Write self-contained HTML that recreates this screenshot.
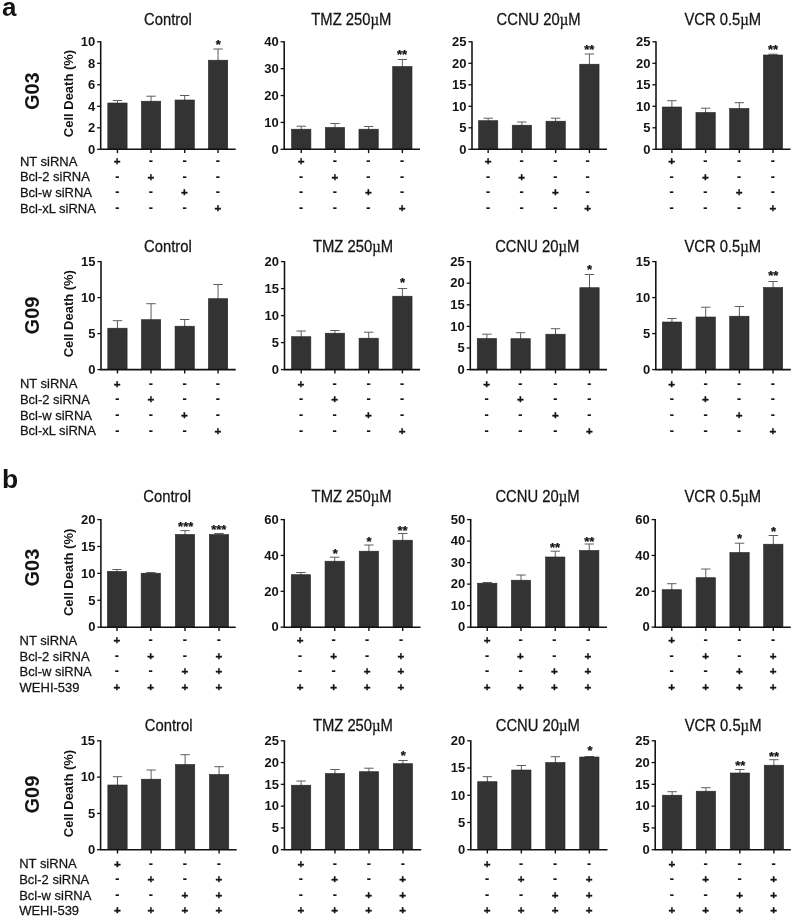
<!DOCTYPE html>
<html lang="en"><head><meta charset="utf-8"><title>Figure</title>
<style>html,body{margin:0;padding:0;background:#fff}svg{display:block;will-change:transform}text.b,text.p,text.s{font-weight:bold}text.s{stroke:#141414;stroke-width:.35px}text.st{font-weight:bold;stroke:#141414;stroke-width:.25px}text.r{stroke:#141414;stroke-width:.25px}text.m{font-weight:bold;stroke:#141414;stroke-width:.15px}</style></head>
<body>
<svg width="793" height="919" viewBox="0 0 793 919">
<rect width="793" height="919" fill="#ffffff"/>
<g font-family='"Liberation Sans", Arial, Helvetica, sans-serif' fill="#141414">
<text transform="translate(2.1,15.5)" class="p" font-size="26">a</text>
<text transform="translate(2,487.6)" class="p" font-size="26.5">b</text>
<text transform="translate(39,91.2) rotate(-90) scale(1,1.04)" text-anchor="middle" class="b" font-size="20">G03</text>
<text transform="translate(72.9,93.5) rotate(-90) scale(1,1.05)" text-anchor="middle" class="b" font-size="13">Cell Death (%)</text>
<text transform="translate(19.9,165.85) scale(1,1.05)" class="r" font-size="13">NT siRNA</text>
<text transform="translate(19.9,181.35) scale(1,1.05)" class="r" font-size="13">Bcl-2 siRNA</text>
<text transform="translate(19.9,197.05) scale(1,1.05)" class="r" font-size="13">Bcl-w siRNA</text>
<text transform="translate(19.9,212.75) scale(1,1.05)" class="r" font-size="13">Bcl-xL siRNA</text>
<text transform="translate(167.9,24.7) scale(1,1.07)" text-anchor="middle" class="r" font-size="14.8">Control</text>
<path d="M117.45 104V100.5M112.75 100.5H122.15" stroke="#5e5e5e" stroke-width="1" fill="none"/>
<rect x="107.8" y="103" width="19.3" height="46.3" fill="#333333" stroke="#262626" stroke-width="0.6"/>
<path d="M117.45 149.3V153.1" stroke="#111111" stroke-width="1.4"/>
<path d="M151.05 102.2V96.2M146.35 96.2H155.75" stroke="#5e5e5e" stroke-width="1" fill="none"/>
<rect x="141.4" y="101.2" width="19.3" height="48.1" fill="#333333" stroke="#262626" stroke-width="0.6"/>
<path d="M151.05 149.3V153.1" stroke="#111111" stroke-width="1.4"/>
<path d="M184.7 101V95.5M180 95.5H189.4" stroke="#5e5e5e" stroke-width="1" fill="none"/>
<rect x="175.05" y="100" width="19.3" height="49.3" fill="#333333" stroke="#262626" stroke-width="0.6"/>
<path d="M184.7 149.3V153.1" stroke="#111111" stroke-width="1.4"/>
<path d="M218.05 61.2V49M213.35 49H222.75" stroke="#5e5e5e" stroke-width="1" fill="none"/>
<rect x="208.4" y="60.2" width="19.3" height="89.1" fill="#333333" stroke="#262626" stroke-width="0.6"/>
<path d="M218.05 149.3V153.1" stroke="#111111" stroke-width="1.4"/>
<path d="M100.7 41.2V149.3M100.1 149.3H235.7" stroke="#111111" stroke-width="1.55" fill="none"/>
<path d="M97.1 149.3H100.7" stroke="#111111" stroke-width="1.3"/>
<text transform="translate(95.2,153.55) scale(1,1.05)" text-anchor="end" class="b" font-size="13">0</text>
<path d="M97.1 127.8H100.7" stroke="#111111" stroke-width="1.3"/>
<text transform="translate(95.2,132.05) scale(1,1.05)" text-anchor="end" class="b" font-size="13">2</text>
<path d="M97.1 106.3H100.7" stroke="#111111" stroke-width="1.3"/>
<text transform="translate(95.2,110.55) scale(1,1.05)" text-anchor="end" class="b" font-size="13">4</text>
<path d="M97.1 84.8H100.7" stroke="#111111" stroke-width="1.3"/>
<text transform="translate(95.2,89.05) scale(1,1.05)" text-anchor="end" class="b" font-size="13">6</text>
<path d="M97.1 63.3H100.7" stroke="#111111" stroke-width="1.3"/>
<text transform="translate(95.2,67.55) scale(1,1.05)" text-anchor="end" class="b" font-size="13">8</text>
<path d="M97.1 41.8H100.7" stroke="#111111" stroke-width="1.3"/>
<text transform="translate(95.2,46.05) scale(1,1.05)" text-anchor="end" class="b" font-size="13">10</text>
<text transform="translate(218.3,49.25)" text-anchor="middle" class="st" font-size="13">*</text>
<text transform="translate(117.25,165)" text-anchor="middle" class="s" font-size="11.6">+</text>
<text transform="translate(150.85,165.1)" text-anchor="middle" class="m" font-size="12.5">-</text>
<text transform="translate(184.5,165.1)" text-anchor="middle" class="m" font-size="12.5">-</text>
<text transform="translate(217.85,165.1)" text-anchor="middle" class="m" font-size="12.5">-</text>
<text transform="translate(117.25,180.6)" text-anchor="middle" class="m" font-size="12.5">-</text>
<text transform="translate(150.85,180.5)" text-anchor="middle" class="s" font-size="11.6">+</text>
<text transform="translate(184.5,180.6)" text-anchor="middle" class="m" font-size="12.5">-</text>
<text transform="translate(217.85,180.6)" text-anchor="middle" class="m" font-size="12.5">-</text>
<text transform="translate(117.25,196.3)" text-anchor="middle" class="m" font-size="12.5">-</text>
<text transform="translate(150.85,196.3)" text-anchor="middle" class="m" font-size="12.5">-</text>
<text transform="translate(184.5,196.2)" text-anchor="middle" class="s" font-size="11.6">+</text>
<text transform="translate(217.85,196.3)" text-anchor="middle" class="m" font-size="12.5">-</text>
<text transform="translate(117.25,212)" text-anchor="middle" class="m" font-size="12.5">-</text>
<text transform="translate(150.85,212)" text-anchor="middle" class="m" font-size="12.5">-</text>
<text transform="translate(184.5,212)" text-anchor="middle" class="m" font-size="12.5">-</text>
<text transform="translate(217.85,211.9)" text-anchor="middle" class="s" font-size="11.6">+</text>
<text transform="translate(351.3,24.7) scale(1,1.07)" text-anchor="middle" class="r" font-size="14.8">TMZ 250<tspan font-family='"Liberation Serif", "DejaVu Serif", serif'>µ</tspan>M</text>
<path d="M301.25 130.2V126.2M296.55 126.2H305.95" stroke="#5e5e5e" stroke-width="1" fill="none"/>
<rect x="291.6" y="129.2" width="19.3" height="20.1" fill="#333333" stroke="#262626" stroke-width="0.6"/>
<path d="M301.25 149.3V153.1" stroke="#111111" stroke-width="1.4"/>
<path d="M335 128.5V123.5M330.3 123.5H339.7" stroke="#5e5e5e" stroke-width="1" fill="none"/>
<rect x="325.35" y="127.5" width="19.3" height="21.8" fill="#333333" stroke="#262626" stroke-width="0.6"/>
<path d="M335 149.3V153.1" stroke="#111111" stroke-width="1.4"/>
<path d="M368.6 130.2V126.5M363.9 126.5H373.3" stroke="#5e5e5e" stroke-width="1" fill="none"/>
<rect x="358.95" y="129.2" width="19.3" height="20.1" fill="#333333" stroke="#262626" stroke-width="0.6"/>
<path d="M368.6 149.3V153.1" stroke="#111111" stroke-width="1.4"/>
<path d="M402.35 67.5V59.5M397.65 59.5H407.05" stroke="#5e5e5e" stroke-width="1" fill="none"/>
<rect x="392.7" y="66.5" width="19.3" height="82.8" fill="#333333" stroke="#262626" stroke-width="0.6"/>
<path d="M402.35 149.3V153.1" stroke="#111111" stroke-width="1.4"/>
<path d="M284.2 41.2V149.3M283.6 149.3H420" stroke="#111111" stroke-width="1.55" fill="none"/>
<path d="M280.6 149.3H284.2" stroke="#111111" stroke-width="1.3"/>
<text transform="translate(278.7,153.55) scale(1,1.05)" text-anchor="end" class="b" font-size="13">0</text>
<path d="M280.6 122.43H284.2" stroke="#111111" stroke-width="1.3"/>
<text transform="translate(278.7,126.68) scale(1,1.05)" text-anchor="end" class="b" font-size="13">10</text>
<path d="M280.6 95.55H284.2" stroke="#111111" stroke-width="1.3"/>
<text transform="translate(278.7,99.8) scale(1,1.05)" text-anchor="end" class="b" font-size="13">20</text>
<path d="M280.6 68.67H284.2" stroke="#111111" stroke-width="1.3"/>
<text transform="translate(278.7,72.92) scale(1,1.05)" text-anchor="end" class="b" font-size="13">30</text>
<path d="M280.6 41.8H284.2" stroke="#111111" stroke-width="1.3"/>
<text transform="translate(278.7,46.05) scale(1,1.05)" text-anchor="end" class="b" font-size="13">40</text>
<text transform="translate(402,59.45)" text-anchor="middle" class="st" font-size="13">**</text>
<text transform="translate(301.05,165)" text-anchor="middle" class="s" font-size="11.6">+</text>
<text transform="translate(334.8,165.1)" text-anchor="middle" class="m" font-size="12.5">-</text>
<text transform="translate(368.4,165.1)" text-anchor="middle" class="m" font-size="12.5">-</text>
<text transform="translate(402.15,165.1)" text-anchor="middle" class="m" font-size="12.5">-</text>
<text transform="translate(301.05,180.6)" text-anchor="middle" class="m" font-size="12.5">-</text>
<text transform="translate(334.8,180.5)" text-anchor="middle" class="s" font-size="11.6">+</text>
<text transform="translate(368.4,180.6)" text-anchor="middle" class="m" font-size="12.5">-</text>
<text transform="translate(402.15,180.6)" text-anchor="middle" class="m" font-size="12.5">-</text>
<text transform="translate(301.05,196.3)" text-anchor="middle" class="m" font-size="12.5">-</text>
<text transform="translate(334.8,196.3)" text-anchor="middle" class="m" font-size="12.5">-</text>
<text transform="translate(368.4,196.2)" text-anchor="middle" class="s" font-size="11.6">+</text>
<text transform="translate(402.15,196.3)" text-anchor="middle" class="m" font-size="12.5">-</text>
<text transform="translate(301.05,212)" text-anchor="middle" class="m" font-size="12.5">-</text>
<text transform="translate(334.8,212)" text-anchor="middle" class="m" font-size="12.5">-</text>
<text transform="translate(368.4,212)" text-anchor="middle" class="m" font-size="12.5">-</text>
<text transform="translate(402.15,211.9)" text-anchor="middle" class="s" font-size="11.6">+</text>
<text transform="translate(538.6,24.7) scale(1,1.07)" text-anchor="middle" class="r" font-size="14.8">CCNU 20<tspan font-family='"Liberation Serif", "DejaVu Serif", serif'>µ</tspan>M</text>
<path d="M488.15 121.7V118.2M483.45 118.2H492.85" stroke="#5e5e5e" stroke-width="1" fill="none"/>
<rect x="478.5" y="120.7" width="19.3" height="28.6" fill="#333333" stroke="#262626" stroke-width="0.6"/>
<path d="M488.15 149.3V153.1" stroke="#111111" stroke-width="1.4"/>
<path d="M521.9 126.2V122M517.2 122H526.6" stroke="#5e5e5e" stroke-width="1" fill="none"/>
<rect x="512.25" y="125.2" width="19.3" height="24.1" fill="#333333" stroke="#262626" stroke-width="0.6"/>
<path d="M521.9 149.3V153.1" stroke="#111111" stroke-width="1.4"/>
<path d="M555.65 122.2V118.2M550.95 118.2H560.35" stroke="#5e5e5e" stroke-width="1" fill="none"/>
<rect x="546" y="121.2" width="19.3" height="28.1" fill="#333333" stroke="#262626" stroke-width="0.6"/>
<path d="M555.65 149.3V153.1" stroke="#111111" stroke-width="1.4"/>
<path d="M589.4 65.2V54M584.7 54H594.1" stroke="#5e5e5e" stroke-width="1" fill="none"/>
<rect x="579.75" y="64.2" width="19.3" height="85.1" fill="#333333" stroke="#262626" stroke-width="0.6"/>
<path d="M589.4 149.3V153.1" stroke="#111111" stroke-width="1.4"/>
<path d="M472 41.2V149.3M471.4 149.3H607" stroke="#111111" stroke-width="1.55" fill="none"/>
<path d="M468.4 149.3H472" stroke="#111111" stroke-width="1.3"/>
<text transform="translate(466.5,153.55) scale(1,1.05)" text-anchor="end" class="b" font-size="13">0</text>
<path d="M468.4 127.8H472" stroke="#111111" stroke-width="1.3"/>
<text transform="translate(466.5,132.05) scale(1,1.05)" text-anchor="end" class="b" font-size="13">5</text>
<path d="M468.4 106.3H472" stroke="#111111" stroke-width="1.3"/>
<text transform="translate(466.5,110.55) scale(1,1.05)" text-anchor="end" class="b" font-size="13">10</text>
<path d="M468.4 84.8H472" stroke="#111111" stroke-width="1.3"/>
<text transform="translate(466.5,89.05) scale(1,1.05)" text-anchor="end" class="b" font-size="13">15</text>
<path d="M468.4 63.3H472" stroke="#111111" stroke-width="1.3"/>
<text transform="translate(466.5,67.55) scale(1,1.05)" text-anchor="end" class="b" font-size="13">20</text>
<path d="M468.4 41.8H472" stroke="#111111" stroke-width="1.3"/>
<text transform="translate(466.5,46.05) scale(1,1.05)" text-anchor="end" class="b" font-size="13">25</text>
<text transform="translate(589.3,53.95)" text-anchor="middle" class="st" font-size="13">**</text>
<text transform="translate(488.1,165)" text-anchor="middle" class="s" font-size="11.6">+</text>
<text transform="translate(521.7,165.1)" text-anchor="middle" class="m" font-size="12.5">-</text>
<text transform="translate(555.4,165.1)" text-anchor="middle" class="m" font-size="12.5">-</text>
<text transform="translate(587.7,165.1)" text-anchor="middle" class="m" font-size="12.5">-</text>
<text transform="translate(488.1,180.6)" text-anchor="middle" class="m" font-size="12.5">-</text>
<text transform="translate(521.7,180.5)" text-anchor="middle" class="s" font-size="11.6">+</text>
<text transform="translate(555.4,180.6)" text-anchor="middle" class="m" font-size="12.5">-</text>
<text transform="translate(587.7,180.6)" text-anchor="middle" class="m" font-size="12.5">-</text>
<text transform="translate(488.1,196.3)" text-anchor="middle" class="m" font-size="12.5">-</text>
<text transform="translate(521.7,196.3)" text-anchor="middle" class="m" font-size="12.5">-</text>
<text transform="translate(555.4,196.2)" text-anchor="middle" class="s" font-size="11.6">+</text>
<text transform="translate(587.7,196.3)" text-anchor="middle" class="m" font-size="12.5">-</text>
<text transform="translate(488.1,212)" text-anchor="middle" class="m" font-size="12.5">-</text>
<text transform="translate(521.7,212)" text-anchor="middle" class="m" font-size="12.5">-</text>
<text transform="translate(555.4,212)" text-anchor="middle" class="m" font-size="12.5">-</text>
<text transform="translate(587.7,211.9)" text-anchor="middle" class="s" font-size="11.6">+</text>
<text transform="translate(722.8,24.7) scale(1,1.07)" text-anchor="middle" class="r" font-size="14.8">VCR 0.5<tspan font-family='"Liberation Serif", "DejaVu Serif", serif'>µ</tspan>M</text>
<path d="M671.9 108V100.7M667.2 100.7H676.6" stroke="#5e5e5e" stroke-width="1" fill="none"/>
<rect x="662.25" y="107" width="19.3" height="42.3" fill="#333333" stroke="#262626" stroke-width="0.6"/>
<path d="M671.9 149.3V153.1" stroke="#111111" stroke-width="1.4"/>
<path d="M705.6 113.5V108.2M700.9 108.2H710.3" stroke="#5e5e5e" stroke-width="1" fill="none"/>
<rect x="695.95" y="112.5" width="19.3" height="36.8" fill="#333333" stroke="#262626" stroke-width="0.6"/>
<path d="M705.6 149.3V153.1" stroke="#111111" stroke-width="1.4"/>
<path d="M739.3 109.5V102.7M734.6 102.7H744" stroke="#5e5e5e" stroke-width="1" fill="none"/>
<rect x="729.65" y="108.5" width="19.3" height="40.8" fill="#333333" stroke="#262626" stroke-width="0.6"/>
<path d="M739.3 149.3V153.1" stroke="#111111" stroke-width="1.4"/>
<path d="M773 56V54.2M768.3 54.2H777.7" stroke="#5e5e5e" stroke-width="1" fill="none"/>
<rect x="763.35" y="55" width="19.3" height="94.3" fill="#333333" stroke="#262626" stroke-width="0.6"/>
<path d="M773 149.3V153.1" stroke="#111111" stroke-width="1.4"/>
<path d="M656 41.2V149.3M655.4 149.3H790.5" stroke="#111111" stroke-width="1.55" fill="none"/>
<path d="M652.4 149.3H656" stroke="#111111" stroke-width="1.3"/>
<text transform="translate(650.5,153.55) scale(1,1.05)" text-anchor="end" class="b" font-size="13">0</text>
<path d="M652.4 127.8H656" stroke="#111111" stroke-width="1.3"/>
<text transform="translate(650.5,132.05) scale(1,1.05)" text-anchor="end" class="b" font-size="13">5</text>
<path d="M652.4 106.3H656" stroke="#111111" stroke-width="1.3"/>
<text transform="translate(650.5,110.55) scale(1,1.05)" text-anchor="end" class="b" font-size="13">10</text>
<path d="M652.4 84.8H656" stroke="#111111" stroke-width="1.3"/>
<text transform="translate(650.5,89.05) scale(1,1.05)" text-anchor="end" class="b" font-size="13">15</text>
<path d="M652.4 63.3H656" stroke="#111111" stroke-width="1.3"/>
<text transform="translate(650.5,67.55) scale(1,1.05)" text-anchor="end" class="b" font-size="13">20</text>
<path d="M652.4 41.8H656" stroke="#111111" stroke-width="1.3"/>
<text transform="translate(650.5,46.05) scale(1,1.05)" text-anchor="end" class="b" font-size="13">25</text>
<text transform="translate(773,53.95)" text-anchor="middle" class="st" font-size="13">**</text>
<text transform="translate(671.7,165)" text-anchor="middle" class="s" font-size="11.6">+</text>
<text transform="translate(705.4,165.1)" text-anchor="middle" class="m" font-size="12.5">-</text>
<text transform="translate(739.1,165.1)" text-anchor="middle" class="m" font-size="12.5">-</text>
<text transform="translate(772.8,165.1)" text-anchor="middle" class="m" font-size="12.5">-</text>
<text transform="translate(671.7,180.6)" text-anchor="middle" class="m" font-size="12.5">-</text>
<text transform="translate(705.4,180.5)" text-anchor="middle" class="s" font-size="11.6">+</text>
<text transform="translate(739.1,180.6)" text-anchor="middle" class="m" font-size="12.5">-</text>
<text transform="translate(772.8,180.6)" text-anchor="middle" class="m" font-size="12.5">-</text>
<text transform="translate(671.7,196.3)" text-anchor="middle" class="m" font-size="12.5">-</text>
<text transform="translate(705.4,196.3)" text-anchor="middle" class="m" font-size="12.5">-</text>
<text transform="translate(739.1,196.2)" text-anchor="middle" class="s" font-size="11.6">+</text>
<text transform="translate(772.8,196.3)" text-anchor="middle" class="m" font-size="12.5">-</text>
<text transform="translate(671.7,212)" text-anchor="middle" class="m" font-size="12.5">-</text>
<text transform="translate(705.4,212)" text-anchor="middle" class="m" font-size="12.5">-</text>
<text transform="translate(739.1,212)" text-anchor="middle" class="m" font-size="12.5">-</text>
<text transform="translate(772.8,211.9)" text-anchor="middle" class="s" font-size="11.6">+</text>
<text transform="translate(39,315.5) rotate(-90) scale(1,1.04)" text-anchor="middle" class="b" font-size="20">G09</text>
<text transform="translate(72.9,313.7) rotate(-90) scale(1,1.05)" text-anchor="middle" class="b" font-size="13">Cell Death (%)</text>
<text transform="translate(19.9,388.45) scale(1,1.05)" class="r" font-size="13">NT siRNA</text>
<text transform="translate(19.9,404.15) scale(1,1.05)" class="r" font-size="13">Bcl-2 siRNA</text>
<text transform="translate(19.9,419.75) scale(1,1.05)" class="r" font-size="13">Bcl-w siRNA</text>
<text transform="translate(19.9,435.35) scale(1,1.05)" class="r" font-size="13">Bcl-xL siRNA</text>
<text transform="translate(167.9,251.9) scale(1,1.07)" text-anchor="middle" class="r" font-size="14.8">Control</text>
<path d="M117.45 329.2V320.7M112.75 320.7H122.15" stroke="#5e5e5e" stroke-width="1" fill="none"/>
<rect x="107.8" y="328.2" width="19.3" height="41.4" fill="#333333" stroke="#262626" stroke-width="0.6"/>
<path d="M117.45 369.6V373.4" stroke="#111111" stroke-width="1.4"/>
<path d="M151.05 320.7V303.7M146.35 303.7H155.75" stroke="#5e5e5e" stroke-width="1" fill="none"/>
<rect x="141.4" y="319.7" width="19.3" height="49.9" fill="#333333" stroke="#262626" stroke-width="0.6"/>
<path d="M151.05 369.6V373.4" stroke="#111111" stroke-width="1.4"/>
<path d="M184.7 327.2V319.5M180 319.5H189.4" stroke="#5e5e5e" stroke-width="1" fill="none"/>
<rect x="175.05" y="326.2" width="19.3" height="43.4" fill="#333333" stroke="#262626" stroke-width="0.6"/>
<path d="M184.7 369.6V373.4" stroke="#111111" stroke-width="1.4"/>
<path d="M218.05 299.7V284.5M213.35 284.5H222.75" stroke="#5e5e5e" stroke-width="1" fill="none"/>
<rect x="208.4" y="298.7" width="19.3" height="70.9" fill="#333333" stroke="#262626" stroke-width="0.6"/>
<path d="M218.05 369.6V373.4" stroke="#111111" stroke-width="1.4"/>
<path d="M101 261V369.6M100.4 369.6H235.7" stroke="#111111" stroke-width="1.55" fill="none"/>
<path d="M97.4 369.6H101" stroke="#111111" stroke-width="1.3"/>
<text transform="translate(95.5,373.85) scale(1,1.05)" text-anchor="end" class="b" font-size="13">0</text>
<path d="M97.4 333.6H101" stroke="#111111" stroke-width="1.3"/>
<text transform="translate(95.5,337.85) scale(1,1.05)" text-anchor="end" class="b" font-size="13">5</text>
<path d="M97.4 297.6H101" stroke="#111111" stroke-width="1.3"/>
<text transform="translate(95.5,301.85) scale(1,1.05)" text-anchor="end" class="b" font-size="13">10</text>
<path d="M97.4 261.6H101" stroke="#111111" stroke-width="1.3"/>
<text transform="translate(95.5,265.85) scale(1,1.05)" text-anchor="end" class="b" font-size="13">15</text>
<text transform="translate(117.25,387.6)" text-anchor="middle" class="s" font-size="11.6">+</text>
<text transform="translate(150.85,387.7)" text-anchor="middle" class="m" font-size="12.5">-</text>
<text transform="translate(184.5,387.7)" text-anchor="middle" class="m" font-size="12.5">-</text>
<text transform="translate(217.85,387.7)" text-anchor="middle" class="m" font-size="12.5">-</text>
<text transform="translate(117.25,403.4)" text-anchor="middle" class="m" font-size="12.5">-</text>
<text transform="translate(150.85,403.3)" text-anchor="middle" class="s" font-size="11.6">+</text>
<text transform="translate(184.5,403.4)" text-anchor="middle" class="m" font-size="12.5">-</text>
<text transform="translate(217.85,403.4)" text-anchor="middle" class="m" font-size="12.5">-</text>
<text transform="translate(117.25,419)" text-anchor="middle" class="m" font-size="12.5">-</text>
<text transform="translate(150.85,419)" text-anchor="middle" class="m" font-size="12.5">-</text>
<text transform="translate(184.5,418.9)" text-anchor="middle" class="s" font-size="11.6">+</text>
<text transform="translate(217.85,419)" text-anchor="middle" class="m" font-size="12.5">-</text>
<text transform="translate(117.25,434.6)" text-anchor="middle" class="m" font-size="12.5">-</text>
<text transform="translate(150.85,434.6)" text-anchor="middle" class="m" font-size="12.5">-</text>
<text transform="translate(184.5,434.6)" text-anchor="middle" class="m" font-size="12.5">-</text>
<text transform="translate(217.85,434.5)" text-anchor="middle" class="s" font-size="11.6">+</text>
<text transform="translate(353,251.9) scale(1,1.07)" text-anchor="middle" class="r" font-size="14.8">TMZ 250<tspan font-family='"Liberation Serif", "DejaVu Serif", serif'>µ</tspan>M</text>
<path d="M301.2 337.7V331M296.5 331H305.9" stroke="#5e5e5e" stroke-width="1" fill="none"/>
<rect x="291.55" y="336.7" width="19.3" height="32.9" fill="#333333" stroke="#262626" stroke-width="0.6"/>
<path d="M301.2 369.6V373.4" stroke="#111111" stroke-width="1.4"/>
<path d="M334.9 334.2V330.5M330.2 330.5H339.6" stroke="#5e5e5e" stroke-width="1" fill="none"/>
<rect x="325.25" y="333.2" width="19.3" height="36.4" fill="#333333" stroke="#262626" stroke-width="0.6"/>
<path d="M334.9 369.6V373.4" stroke="#111111" stroke-width="1.4"/>
<path d="M368.7 339.2V332.2M364 332.2H373.4" stroke="#5e5e5e" stroke-width="1" fill="none"/>
<rect x="359.05" y="338.2" width="19.3" height="31.4" fill="#333333" stroke="#262626" stroke-width="0.6"/>
<path d="M368.7 369.6V373.4" stroke="#111111" stroke-width="1.4"/>
<path d="M402.4 297.2V288.5M397.7 288.5H407.1" stroke="#5e5e5e" stroke-width="1" fill="none"/>
<rect x="392.75" y="296.2" width="19.3" height="73.4" fill="#333333" stroke="#262626" stroke-width="0.6"/>
<path d="M402.4 369.6V373.4" stroke="#111111" stroke-width="1.4"/>
<path d="M284.5 261V369.6M283.9 369.6H420" stroke="#111111" stroke-width="1.55" fill="none"/>
<path d="M280.9 369.6H284.5" stroke="#111111" stroke-width="1.3"/>
<text transform="translate(279,373.85) scale(1,1.05)" text-anchor="end" class="b" font-size="13">0</text>
<path d="M280.9 342.6H284.5" stroke="#111111" stroke-width="1.3"/>
<text transform="translate(279,346.85) scale(1,1.05)" text-anchor="end" class="b" font-size="13">5</text>
<path d="M280.9 315.6H284.5" stroke="#111111" stroke-width="1.3"/>
<text transform="translate(279,319.85) scale(1,1.05)" text-anchor="end" class="b" font-size="13">10</text>
<path d="M280.9 288.6H284.5" stroke="#111111" stroke-width="1.3"/>
<text transform="translate(279,292.85) scale(1,1.05)" text-anchor="end" class="b" font-size="13">15</text>
<path d="M280.9 261.6H284.5" stroke="#111111" stroke-width="1.3"/>
<text transform="translate(279,265.85) scale(1,1.05)" text-anchor="end" class="b" font-size="13">20</text>
<text transform="translate(402.5,287.45)" text-anchor="middle" class="st" font-size="13">*</text>
<text transform="translate(301,387.6)" text-anchor="middle" class="s" font-size="11.6">+</text>
<text transform="translate(334.7,387.7)" text-anchor="middle" class="m" font-size="12.5">-</text>
<text transform="translate(368.5,387.7)" text-anchor="middle" class="m" font-size="12.5">-</text>
<text transform="translate(402.2,387.7)" text-anchor="middle" class="m" font-size="12.5">-</text>
<text transform="translate(301,403.4)" text-anchor="middle" class="m" font-size="12.5">-</text>
<text transform="translate(334.7,403.3)" text-anchor="middle" class="s" font-size="11.6">+</text>
<text transform="translate(368.5,403.4)" text-anchor="middle" class="m" font-size="12.5">-</text>
<text transform="translate(402.2,403.4)" text-anchor="middle" class="m" font-size="12.5">-</text>
<text transform="translate(301,419)" text-anchor="middle" class="m" font-size="12.5">-</text>
<text transform="translate(334.7,419)" text-anchor="middle" class="m" font-size="12.5">-</text>
<text transform="translate(368.5,418.9)" text-anchor="middle" class="s" font-size="11.6">+</text>
<text transform="translate(402.2,419)" text-anchor="middle" class="m" font-size="12.5">-</text>
<text transform="translate(301,434.6)" text-anchor="middle" class="m" font-size="12.5">-</text>
<text transform="translate(334.7,434.6)" text-anchor="middle" class="m" font-size="12.5">-</text>
<text transform="translate(368.5,434.6)" text-anchor="middle" class="m" font-size="12.5">-</text>
<text transform="translate(402.2,434.5)" text-anchor="middle" class="s" font-size="11.6">+</text>
<text transform="translate(537.2,251.9) scale(1,1.07)" text-anchor="middle" class="r" font-size="14.8">CCNU 20<tspan font-family='"Liberation Serif", "DejaVu Serif", serif'>µ</tspan>M</text>
<path d="M486.9 339.5V334.2M482.2 334.2H491.6" stroke="#5e5e5e" stroke-width="1" fill="none"/>
<rect x="477.25" y="338.5" width="19.3" height="31.1" fill="#333333" stroke="#262626" stroke-width="0.6"/>
<path d="M486.9 369.6V373.4" stroke="#111111" stroke-width="1.4"/>
<path d="M520.6 339.7V332.7M515.9 332.7H525.3" stroke="#5e5e5e" stroke-width="1" fill="none"/>
<rect x="510.95" y="338.7" width="19.3" height="30.9" fill="#333333" stroke="#262626" stroke-width="0.6"/>
<path d="M520.6 369.6V373.4" stroke="#111111" stroke-width="1.4"/>
<path d="M555.5 335.2V328.7M550.8 328.7H560.2" stroke="#5e5e5e" stroke-width="1" fill="none"/>
<rect x="545.85" y="334.2" width="19.3" height="35.4" fill="#333333" stroke="#262626" stroke-width="0.6"/>
<path d="M555.5 369.6V373.4" stroke="#111111" stroke-width="1.4"/>
<path d="M589.5 288.7V274.5M584.8 274.5H594.2" stroke="#5e5e5e" stroke-width="1" fill="none"/>
<rect x="579.85" y="287.7" width="19.3" height="81.9" fill="#333333" stroke="#262626" stroke-width="0.6"/>
<path d="M589.5 369.6V373.4" stroke="#111111" stroke-width="1.4"/>
<path d="M470.3 261V369.6M469.7 369.6H607" stroke="#111111" stroke-width="1.55" fill="none"/>
<path d="M466.7 369.6H470.3" stroke="#111111" stroke-width="1.3"/>
<text transform="translate(464.8,373.85) scale(1,1.05)" text-anchor="end" class="b" font-size="13">0</text>
<path d="M466.7 348H470.3" stroke="#111111" stroke-width="1.3"/>
<text transform="translate(464.8,352.25) scale(1,1.05)" text-anchor="end" class="b" font-size="13">5</text>
<path d="M466.7 326.4H470.3" stroke="#111111" stroke-width="1.3"/>
<text transform="translate(464.8,330.65) scale(1,1.05)" text-anchor="end" class="b" font-size="13">10</text>
<path d="M466.7 304.8H470.3" stroke="#111111" stroke-width="1.3"/>
<text transform="translate(464.8,309.05) scale(1,1.05)" text-anchor="end" class="b" font-size="13">15</text>
<path d="M466.7 283.2H470.3" stroke="#111111" stroke-width="1.3"/>
<text transform="translate(464.8,287.45) scale(1,1.05)" text-anchor="end" class="b" font-size="13">20</text>
<path d="M466.7 261.6H470.3" stroke="#111111" stroke-width="1.3"/>
<text transform="translate(464.8,265.85) scale(1,1.05)" text-anchor="end" class="b" font-size="13">25</text>
<text transform="translate(589.5,273.65)" text-anchor="middle" class="st" font-size="13">*</text>
<text transform="translate(486.7,387.6)" text-anchor="middle" class="s" font-size="11.6">+</text>
<text transform="translate(520.4,387.7)" text-anchor="middle" class="m" font-size="12.5">-</text>
<text transform="translate(555.3,387.7)" text-anchor="middle" class="m" font-size="12.5">-</text>
<text transform="translate(589.3,387.7)" text-anchor="middle" class="m" font-size="12.5">-</text>
<text transform="translate(486.7,403.4)" text-anchor="middle" class="m" font-size="12.5">-</text>
<text transform="translate(520.4,403.3)" text-anchor="middle" class="s" font-size="11.6">+</text>
<text transform="translate(555.3,403.4)" text-anchor="middle" class="m" font-size="12.5">-</text>
<text transform="translate(589.3,403.4)" text-anchor="middle" class="m" font-size="12.5">-</text>
<text transform="translate(486.7,419)" text-anchor="middle" class="m" font-size="12.5">-</text>
<text transform="translate(520.4,419)" text-anchor="middle" class="m" font-size="12.5">-</text>
<text transform="translate(555.3,418.9)" text-anchor="middle" class="s" font-size="11.6">+</text>
<text transform="translate(589.3,419)" text-anchor="middle" class="m" font-size="12.5">-</text>
<text transform="translate(486.7,434.6)" text-anchor="middle" class="m" font-size="12.5">-</text>
<text transform="translate(520.4,434.6)" text-anchor="middle" class="m" font-size="12.5">-</text>
<text transform="translate(555.3,434.6)" text-anchor="middle" class="m" font-size="12.5">-</text>
<text transform="translate(589.3,434.5)" text-anchor="middle" class="s" font-size="11.6">+</text>
<text transform="translate(722.8,251.9) scale(1,1.07)" text-anchor="middle" class="r" font-size="14.8">VCR 0.5<tspan font-family='"Liberation Serif", "DejaVu Serif", serif'>µ</tspan>M</text>
<path d="M671.95 323V318.5M667.25 318.5H676.65" stroke="#5e5e5e" stroke-width="1" fill="none"/>
<rect x="662.3" y="322" width="19.3" height="47.6" fill="#333333" stroke="#262626" stroke-width="0.6"/>
<path d="M671.95 369.6V373.4" stroke="#111111" stroke-width="1.4"/>
<path d="M705.7 318V307.2M701 307.2H710.4" stroke="#5e5e5e" stroke-width="1" fill="none"/>
<rect x="696.05" y="317" width="19.3" height="52.6" fill="#333333" stroke="#262626" stroke-width="0.6"/>
<path d="M705.7 369.6V373.4" stroke="#111111" stroke-width="1.4"/>
<path d="M739.35 317.2V306.5M734.65 306.5H744.05" stroke="#5e5e5e" stroke-width="1" fill="none"/>
<rect x="729.7" y="316.2" width="19.3" height="53.4" fill="#333333" stroke="#262626" stroke-width="0.6"/>
<path d="M739.35 369.6V373.4" stroke="#111111" stroke-width="1.4"/>
<path d="M773.05 288.5V281.5M768.35 281.5H777.75" stroke="#5e5e5e" stroke-width="1" fill="none"/>
<rect x="763.4" y="287.5" width="19.3" height="82.1" fill="#333333" stroke="#262626" stroke-width="0.6"/>
<path d="M773.05 369.6V373.4" stroke="#111111" stroke-width="1.4"/>
<path d="M655.8 261V369.6M655.2 369.6H790.8" stroke="#111111" stroke-width="1.55" fill="none"/>
<path d="M652.2 369.6H655.8" stroke="#111111" stroke-width="1.3"/>
<text transform="translate(650.3,373.85) scale(1,1.05)" text-anchor="end" class="b" font-size="13">0</text>
<path d="M652.2 333.6H655.8" stroke="#111111" stroke-width="1.3"/>
<text transform="translate(650.3,337.85) scale(1,1.05)" text-anchor="end" class="b" font-size="13">5</text>
<path d="M652.2 297.6H655.8" stroke="#111111" stroke-width="1.3"/>
<text transform="translate(650.3,301.85) scale(1,1.05)" text-anchor="end" class="b" font-size="13">10</text>
<path d="M652.2 261.6H655.8" stroke="#111111" stroke-width="1.3"/>
<text transform="translate(650.3,265.85) scale(1,1.05)" text-anchor="end" class="b" font-size="13">15</text>
<text transform="translate(773.2,280.45)" text-anchor="middle" class="st" font-size="13">**</text>
<text transform="translate(671.75,387.6)" text-anchor="middle" class="s" font-size="11.6">+</text>
<text transform="translate(705.5,387.7)" text-anchor="middle" class="m" font-size="12.5">-</text>
<text transform="translate(739.15,387.7)" text-anchor="middle" class="m" font-size="12.5">-</text>
<text transform="translate(772.85,387.7)" text-anchor="middle" class="m" font-size="12.5">-</text>
<text transform="translate(671.75,403.4)" text-anchor="middle" class="m" font-size="12.5">-</text>
<text transform="translate(705.5,403.3)" text-anchor="middle" class="s" font-size="11.6">+</text>
<text transform="translate(739.15,403.4)" text-anchor="middle" class="m" font-size="12.5">-</text>
<text transform="translate(772.85,403.4)" text-anchor="middle" class="m" font-size="12.5">-</text>
<text transform="translate(671.75,419)" text-anchor="middle" class="m" font-size="12.5">-</text>
<text transform="translate(705.5,419)" text-anchor="middle" class="m" font-size="12.5">-</text>
<text transform="translate(739.15,418.9)" text-anchor="middle" class="s" font-size="11.6">+</text>
<text transform="translate(772.85,419)" text-anchor="middle" class="m" font-size="12.5">-</text>
<text transform="translate(671.75,434.6)" text-anchor="middle" class="m" font-size="12.5">-</text>
<text transform="translate(705.5,434.6)" text-anchor="middle" class="m" font-size="12.5">-</text>
<text transform="translate(739.15,434.6)" text-anchor="middle" class="m" font-size="12.5">-</text>
<text transform="translate(772.85,434.5)" text-anchor="middle" class="s" font-size="11.6">+</text>
<text transform="translate(39,567.6) rotate(-90) scale(1,1.04)" text-anchor="middle" class="b" font-size="20">G03</text>
<text transform="translate(72.9,572.4) rotate(-90) scale(1,1.05)" text-anchor="middle" class="b" font-size="13">Cell Death (%)</text>
<text transform="translate(19.6,645.15) scale(1,1.05)" class="r" font-size="13">NT siRNA</text>
<text transform="translate(19.6,660.65) scale(1,1.05)" class="r" font-size="13">Bcl-2 siRNA</text>
<text transform="translate(19.6,676.15) scale(1,1.05)" class="r" font-size="13">Bcl-w siRNA</text>
<text transform="translate(19.6,691.75) scale(1,1.05)" class="r" font-size="13">WEHI-539</text>
<text transform="translate(167.1,501.7) scale(1,1.07)" text-anchor="middle" class="r" font-size="14.8">Control</text>
<path d="M117 572.4V569.5M112.3 569.5H121.7" stroke="#5e5e5e" stroke-width="1" fill="none"/>
<rect x="107.35" y="571.4" width="19.3" height="55.75" fill="#333333" stroke="#262626" stroke-width="0.6"/>
<path d="M117 627.15V630.95" stroke="#111111" stroke-width="1.4"/>
<path d="M150.8 574.2V572.5M146.1 572.5H155.5" stroke="#5e5e5e" stroke-width="1" fill="none"/>
<rect x="141.15" y="573.2" width="19.3" height="53.95" fill="#333333" stroke="#262626" stroke-width="0.6"/>
<path d="M150.8 627.15V630.95" stroke="#111111" stroke-width="1.4"/>
<path d="M185 535.5V530.6M180.3 530.6H189.7" stroke="#5e5e5e" stroke-width="1" fill="none"/>
<rect x="175.35" y="534.5" width="19.3" height="92.65" fill="#333333" stroke="#262626" stroke-width="0.6"/>
<path d="M185 627.15V630.95" stroke="#111111" stroke-width="1.4"/>
<path d="M219 535.5V533.5M214.3 533.5H223.7" stroke="#5e5e5e" stroke-width="1" fill="none"/>
<rect x="209.35" y="534.5" width="19.3" height="92.65" fill="#333333" stroke="#262626" stroke-width="0.6"/>
<path d="M219 627.15V630.95" stroke="#111111" stroke-width="1.4"/>
<path d="M100.9 519V627.15M100.3 627.15H235.7" stroke="#111111" stroke-width="1.55" fill="none"/>
<path d="M97.3 627.15H100.9" stroke="#111111" stroke-width="1.3"/>
<text transform="translate(95.4,631.4) scale(1,1.05)" text-anchor="end" class="b" font-size="13">0</text>
<path d="M97.3 600.26H100.9" stroke="#111111" stroke-width="1.3"/>
<text transform="translate(95.4,604.51) scale(1,1.05)" text-anchor="end" class="b" font-size="13">5</text>
<path d="M97.3 573.38H100.9" stroke="#111111" stroke-width="1.3"/>
<text transform="translate(95.4,577.62) scale(1,1.05)" text-anchor="end" class="b" font-size="13">10</text>
<path d="M97.3 546.49H100.9" stroke="#111111" stroke-width="1.3"/>
<text transform="translate(95.4,550.74) scale(1,1.05)" text-anchor="end" class="b" font-size="13">15</text>
<path d="M97.3 519.6H100.9" stroke="#111111" stroke-width="1.3"/>
<text transform="translate(95.4,523.85) scale(1,1.05)" text-anchor="end" class="b" font-size="13">20</text>
<text transform="translate(185.7,531.45)" text-anchor="middle" class="st" font-size="13">***</text>
<text transform="translate(218.8,534.05)" text-anchor="middle" class="st" font-size="13">***</text>
<text transform="translate(116.8,644.3)" text-anchor="middle" class="s" font-size="11.6">+</text>
<text transform="translate(150.6,644.4)" text-anchor="middle" class="m" font-size="12.5">-</text>
<text transform="translate(184.8,644.4)" text-anchor="middle" class="m" font-size="12.5">-</text>
<text transform="translate(218.8,644.4)" text-anchor="middle" class="m" font-size="12.5">-</text>
<text transform="translate(116.8,659.9)" text-anchor="middle" class="m" font-size="12.5">-</text>
<text transform="translate(150.6,659.8)" text-anchor="middle" class="s" font-size="11.6">+</text>
<text transform="translate(184.8,659.9)" text-anchor="middle" class="m" font-size="12.5">-</text>
<text transform="translate(218.8,659.8)" text-anchor="middle" class="s" font-size="11.6">+</text>
<text transform="translate(116.8,675.4)" text-anchor="middle" class="m" font-size="12.5">-</text>
<text transform="translate(150.6,675.4)" text-anchor="middle" class="m" font-size="12.5">-</text>
<text transform="translate(184.8,675.3)" text-anchor="middle" class="s" font-size="11.6">+</text>
<text transform="translate(218.8,675.3)" text-anchor="middle" class="s" font-size="11.6">+</text>
<text transform="translate(116.8,690.9)" text-anchor="middle" class="s" font-size="11.6">+</text>
<text transform="translate(150.6,690.9)" text-anchor="middle" class="s" font-size="11.6">+</text>
<text transform="translate(184.8,690.9)" text-anchor="middle" class="s" font-size="11.6">+</text>
<text transform="translate(218.8,690.9)" text-anchor="middle" class="s" font-size="11.6">+</text>
<text transform="translate(351.6,501.7) scale(1,1.07)" text-anchor="middle" class="r" font-size="14.8">TMZ 250<tspan font-family='"Liberation Serif", "DejaVu Serif", serif'>µ</tspan>M</text>
<path d="M300.9 575.7V572.5M296.2 572.5H305.6" stroke="#5e5e5e" stroke-width="1" fill="none"/>
<rect x="291.25" y="574.7" width="19.3" height="52.45" fill="#333333" stroke="#262626" stroke-width="0.6"/>
<path d="M300.9 627.15V630.95" stroke="#111111" stroke-width="1.4"/>
<path d="M334.7 562.2V557.2M330 557.2H339.4" stroke="#5e5e5e" stroke-width="1" fill="none"/>
<rect x="325.05" y="561.2" width="19.3" height="65.95" fill="#333333" stroke="#262626" stroke-width="0.6"/>
<path d="M334.7 627.15V630.95" stroke="#111111" stroke-width="1.4"/>
<path d="M368.9 552.2V545M364.2 545H373.6" stroke="#5e5e5e" stroke-width="1" fill="none"/>
<rect x="359.25" y="551.2" width="19.3" height="75.95" fill="#333333" stroke="#262626" stroke-width="0.6"/>
<path d="M368.9 627.15V630.95" stroke="#111111" stroke-width="1.4"/>
<path d="M402.7 541.2V533.5M398 533.5H407.4" stroke="#5e5e5e" stroke-width="1" fill="none"/>
<rect x="393.05" y="540.2" width="19.3" height="86.95" fill="#333333" stroke="#262626" stroke-width="0.6"/>
<path d="M402.7 627.15V630.95" stroke="#111111" stroke-width="1.4"/>
<path d="M284.2 519V627.15M283.6 627.15H420.5" stroke="#111111" stroke-width="1.55" fill="none"/>
<path d="M280.6 627.15H284.2" stroke="#111111" stroke-width="1.3"/>
<text transform="translate(278.7,631.4) scale(1,1.05)" text-anchor="end" class="b" font-size="13">0</text>
<path d="M280.6 591.3H284.2" stroke="#111111" stroke-width="1.3"/>
<text transform="translate(278.7,595.55) scale(1,1.05)" text-anchor="end" class="b" font-size="13">20</text>
<path d="M280.6 555.45H284.2" stroke="#111111" stroke-width="1.3"/>
<text transform="translate(278.7,559.7) scale(1,1.05)" text-anchor="end" class="b" font-size="13">40</text>
<path d="M280.6 519.6H284.2" stroke="#111111" stroke-width="1.3"/>
<text transform="translate(278.7,523.85) scale(1,1.05)" text-anchor="end" class="b" font-size="13">60</text>
<text transform="translate(335.2,557.65)" text-anchor="middle" class="st" font-size="13">*</text>
<text transform="translate(369,545.65)" text-anchor="middle" class="st" font-size="13">*</text>
<text transform="translate(402.5,535.15)" text-anchor="middle" class="st" font-size="13">**</text>
<text transform="translate(300.2,644.3)" text-anchor="middle" class="s" font-size="11.6">+</text>
<text transform="translate(333.6,644.4)" text-anchor="middle" class="m" font-size="12.5">-</text>
<text transform="translate(367.1,644.4)" text-anchor="middle" class="m" font-size="12.5">-</text>
<text transform="translate(401,644.4)" text-anchor="middle" class="m" font-size="12.5">-</text>
<text transform="translate(300.2,659.9)" text-anchor="middle" class="m" font-size="12.5">-</text>
<text transform="translate(333.6,659.8)" text-anchor="middle" class="s" font-size="11.6">+</text>
<text transform="translate(367.1,659.9)" text-anchor="middle" class="m" font-size="12.5">-</text>
<text transform="translate(401,659.8)" text-anchor="middle" class="s" font-size="11.6">+</text>
<text transform="translate(300.2,675.4)" text-anchor="middle" class="m" font-size="12.5">-</text>
<text transform="translate(333.6,675.4)" text-anchor="middle" class="m" font-size="12.5">-</text>
<text transform="translate(367.1,675.3)" text-anchor="middle" class="s" font-size="11.6">+</text>
<text transform="translate(401,675.3)" text-anchor="middle" class="s" font-size="11.6">+</text>
<text transform="translate(300.2,690.9)" text-anchor="middle" class="s" font-size="11.6">+</text>
<text transform="translate(333.6,690.9)" text-anchor="middle" class="s" font-size="11.6">+</text>
<text transform="translate(367.1,690.9)" text-anchor="middle" class="s" font-size="11.6">+</text>
<text transform="translate(401,690.9)" text-anchor="middle" class="s" font-size="11.6">+</text>
<text transform="translate(537.5,501.7) scale(1,1.07)" text-anchor="middle" class="r" font-size="14.8">CCNU 20<tspan font-family='"Liberation Serif", "DejaVu Serif", serif'>µ</tspan>M</text>
<path d="M487.25 584.2V582.5M482.55 582.5H491.95" stroke="#5e5e5e" stroke-width="1" fill="none"/>
<rect x="477.6" y="583.2" width="19.3" height="43.95" fill="#333333" stroke="#262626" stroke-width="0.6"/>
<path d="M487.25 627.15V630.95" stroke="#111111" stroke-width="1.4"/>
<path d="M521 581.2V575M516.3 575H525.7" stroke="#5e5e5e" stroke-width="1" fill="none"/>
<rect x="511.35" y="580.2" width="19.3" height="46.95" fill="#333333" stroke="#262626" stroke-width="0.6"/>
<path d="M521 627.15V630.95" stroke="#111111" stroke-width="1.4"/>
<path d="M555.25 558V551.2M550.55 551.2H559.95" stroke="#5e5e5e" stroke-width="1" fill="none"/>
<rect x="545.6" y="557" width="19.3" height="70.15" fill="#333333" stroke="#262626" stroke-width="0.6"/>
<path d="M555.25 627.15V630.95" stroke="#111111" stroke-width="1.4"/>
<path d="M589.25 551.5V544M584.55 544H593.95" stroke="#5e5e5e" stroke-width="1" fill="none"/>
<rect x="579.6" y="550.5" width="19.3" height="76.65" fill="#333333" stroke="#262626" stroke-width="0.6"/>
<path d="M589.25 627.15V630.95" stroke="#111111" stroke-width="1.4"/>
<path d="M470.7 519V627.15M470.1 627.15H607" stroke="#111111" stroke-width="1.55" fill="none"/>
<path d="M467.1 627.15H470.7" stroke="#111111" stroke-width="1.3"/>
<text transform="translate(465.2,631.4) scale(1,1.05)" text-anchor="end" class="b" font-size="13">0</text>
<path d="M467.1 605.64H470.7" stroke="#111111" stroke-width="1.3"/>
<text transform="translate(465.2,609.89) scale(1,1.05)" text-anchor="end" class="b" font-size="13">10</text>
<path d="M467.1 584.13H470.7" stroke="#111111" stroke-width="1.3"/>
<text transform="translate(465.2,588.38) scale(1,1.05)" text-anchor="end" class="b" font-size="13">20</text>
<path d="M467.1 562.62H470.7" stroke="#111111" stroke-width="1.3"/>
<text transform="translate(465.2,566.87) scale(1,1.05)" text-anchor="end" class="b" font-size="13">30</text>
<path d="M467.1 541.11H470.7" stroke="#111111" stroke-width="1.3"/>
<text transform="translate(465.2,545.36) scale(1,1.05)" text-anchor="end" class="b" font-size="13">40</text>
<path d="M467.1 519.6H470.7" stroke="#111111" stroke-width="1.3"/>
<text transform="translate(465.2,523.85) scale(1,1.05)" text-anchor="end" class="b" font-size="13">50</text>
<text transform="translate(555,552.15)" text-anchor="middle" class="st" font-size="13">**</text>
<text transform="translate(589.2,545.65)" text-anchor="middle" class="st" font-size="13">**</text>
<text transform="translate(487.1,644.3)" text-anchor="middle" class="s" font-size="11.6">+</text>
<text transform="translate(520.5,644.4)" text-anchor="middle" class="m" font-size="12.5">-</text>
<text transform="translate(554.3,644.4)" text-anchor="middle" class="m" font-size="12.5">-</text>
<text transform="translate(588,644.4)" text-anchor="middle" class="m" font-size="12.5">-</text>
<text transform="translate(487.1,659.9)" text-anchor="middle" class="m" font-size="12.5">-</text>
<text transform="translate(520.5,659.8)" text-anchor="middle" class="s" font-size="11.6">+</text>
<text transform="translate(554.3,659.9)" text-anchor="middle" class="m" font-size="12.5">-</text>
<text transform="translate(588,659.8)" text-anchor="middle" class="s" font-size="11.6">+</text>
<text transform="translate(487.1,675.4)" text-anchor="middle" class="m" font-size="12.5">-</text>
<text transform="translate(520.5,675.4)" text-anchor="middle" class="m" font-size="12.5">-</text>
<text transform="translate(554.3,675.3)" text-anchor="middle" class="s" font-size="11.6">+</text>
<text transform="translate(588,675.3)" text-anchor="middle" class="s" font-size="11.6">+</text>
<text transform="translate(487.1,690.9)" text-anchor="middle" class="s" font-size="11.6">+</text>
<text transform="translate(520.5,690.9)" text-anchor="middle" class="s" font-size="11.6">+</text>
<text transform="translate(554.3,690.9)" text-anchor="middle" class="s" font-size="11.6">+</text>
<text transform="translate(588,690.9)" text-anchor="middle" class="s" font-size="11.6">+</text>
<text transform="translate(722.8,501.7) scale(1,1.07)" text-anchor="middle" class="r" font-size="14.8">VCR 0.5<tspan font-family='"Liberation Serif", "DejaVu Serif", serif'>µ</tspan>M</text>
<path d="M671.8 590.7V583.7M667.1 583.7H676.5" stroke="#5e5e5e" stroke-width="1" fill="none"/>
<rect x="662.15" y="589.7" width="19.3" height="37.45" fill="#333333" stroke="#262626" stroke-width="0.6"/>
<path d="M671.8 627.15V630.95" stroke="#111111" stroke-width="1.4"/>
<path d="M705.8 578.7V569M701.1 569H710.5" stroke="#5e5e5e" stroke-width="1" fill="none"/>
<rect x="696.15" y="577.7" width="19.3" height="49.45" fill="#333333" stroke="#262626" stroke-width="0.6"/>
<path d="M705.8 627.15V630.95" stroke="#111111" stroke-width="1.4"/>
<path d="M739.55 553.5V543.2M734.85 543.2H744.25" stroke="#5e5e5e" stroke-width="1" fill="none"/>
<rect x="729.9" y="552.5" width="19.3" height="74.65" fill="#333333" stroke="#262626" stroke-width="0.6"/>
<path d="M739.55 627.15V630.95" stroke="#111111" stroke-width="1.4"/>
<path d="M773.3 545.2V535.5M768.6 535.5H778" stroke="#5e5e5e" stroke-width="1" fill="none"/>
<rect x="763.65" y="544.2" width="19.3" height="82.95" fill="#333333" stroke="#262626" stroke-width="0.6"/>
<path d="M773.3 627.15V630.95" stroke="#111111" stroke-width="1.4"/>
<path d="M655.2 519V627.15M654.6 627.15H790.8" stroke="#111111" stroke-width="1.55" fill="none"/>
<path d="M651.6 627.15H655.2" stroke="#111111" stroke-width="1.3"/>
<text transform="translate(649.7,631.4) scale(1,1.05)" text-anchor="end" class="b" font-size="13">0</text>
<path d="M651.6 591.3H655.2" stroke="#111111" stroke-width="1.3"/>
<text transform="translate(649.7,595.55) scale(1,1.05)" text-anchor="end" class="b" font-size="13">20</text>
<path d="M651.6 555.45H655.2" stroke="#111111" stroke-width="1.3"/>
<text transform="translate(649.7,559.7) scale(1,1.05)" text-anchor="end" class="b" font-size="13">40</text>
<path d="M651.6 519.6H655.2" stroke="#111111" stroke-width="1.3"/>
<text transform="translate(649.7,523.85) scale(1,1.05)" text-anchor="end" class="b" font-size="13">60</text>
<text transform="translate(739.5,543.45)" text-anchor="middle" class="st" font-size="13">*</text>
<text transform="translate(773.5,535.95)" text-anchor="middle" class="st" font-size="13">*</text>
<text transform="translate(671.6,644.3)" text-anchor="middle" class="s" font-size="11.6">+</text>
<text transform="translate(705.6,644.4)" text-anchor="middle" class="m" font-size="12.5">-</text>
<text transform="translate(739.35,644.4)" text-anchor="middle" class="m" font-size="12.5">-</text>
<text transform="translate(773.1,644.4)" text-anchor="middle" class="m" font-size="12.5">-</text>
<text transform="translate(671.6,659.9)" text-anchor="middle" class="m" font-size="12.5">-</text>
<text transform="translate(705.6,659.8)" text-anchor="middle" class="s" font-size="11.6">+</text>
<text transform="translate(739.35,659.9)" text-anchor="middle" class="m" font-size="12.5">-</text>
<text transform="translate(773.1,659.8)" text-anchor="middle" class="s" font-size="11.6">+</text>
<text transform="translate(671.6,675.4)" text-anchor="middle" class="m" font-size="12.5">-</text>
<text transform="translate(705.6,675.4)" text-anchor="middle" class="m" font-size="12.5">-</text>
<text transform="translate(739.35,675.3)" text-anchor="middle" class="s" font-size="11.6">+</text>
<text transform="translate(773.1,675.3)" text-anchor="middle" class="s" font-size="11.6">+</text>
<text transform="translate(671.6,690.9)" text-anchor="middle" class="s" font-size="11.6">+</text>
<text transform="translate(705.6,690.9)" text-anchor="middle" class="s" font-size="11.6">+</text>
<text transform="translate(739.35,690.9)" text-anchor="middle" class="s" font-size="11.6">+</text>
<text transform="translate(773.1,690.9)" text-anchor="middle" class="s" font-size="11.6">+</text>
<text transform="translate(39,794.6) rotate(-90) scale(1,1.04)" text-anchor="middle" class="b" font-size="20">G09</text>
<text transform="translate(72.9,793.5) rotate(-90) scale(1,1.05)" text-anchor="middle" class="b" font-size="13">Cell Death (%)</text>
<text transform="translate(19.2,868.35) scale(1,1.05)" class="r" font-size="13">NT siRNA</text>
<text transform="translate(19.2,884.05) scale(1,1.05)" class="r" font-size="13">Bcl-2 siRNA</text>
<text transform="translate(19.2,899.65) scale(1,1.05)" class="r" font-size="13">Bcl-w siRNA</text>
<text transform="translate(19.2,915.15) scale(1,1.05)" class="r" font-size="13">WEHI-539</text>
<text transform="translate(168.7,731.4) scale(1,1.07)" text-anchor="middle" class="r" font-size="14.8">Control</text>
<path d="M117.5 786V776.7M112.8 776.7H122.2" stroke="#5e5e5e" stroke-width="1" fill="none"/>
<rect x="107.85" y="785" width="19.3" height="64.7" fill="#333333" stroke="#262626" stroke-width="0.6"/>
<path d="M117.5 849.7V853.5" stroke="#111111" stroke-width="1.4"/>
<path d="M151.1 780.2V770M146.4 770H155.8" stroke="#5e5e5e" stroke-width="1" fill="none"/>
<rect x="141.45" y="779.2" width="19.3" height="70.5" fill="#333333" stroke="#262626" stroke-width="0.6"/>
<path d="M151.1 849.7V853.5" stroke="#111111" stroke-width="1.4"/>
<path d="M185.1 765.5V754.7M180.4 754.7H189.8" stroke="#5e5e5e" stroke-width="1" fill="none"/>
<rect x="175.45" y="764.5" width="19.3" height="85.2" fill="#333333" stroke="#262626" stroke-width="0.6"/>
<path d="M185.1 849.7V853.5" stroke="#111111" stroke-width="1.4"/>
<path d="M219.1 775.5V766.7M214.4 766.7H223.8" stroke="#5e5e5e" stroke-width="1" fill="none"/>
<rect x="209.45" y="774.5" width="19.3" height="75.2" fill="#333333" stroke="#262626" stroke-width="0.6"/>
<path d="M219.1 849.7V853.5" stroke="#111111" stroke-width="1.4"/>
<path d="M100.6 740.2V849.7M100 849.7H236.7" stroke="#111111" stroke-width="1.55" fill="none"/>
<path d="M97 849.7H100.6" stroke="#111111" stroke-width="1.3"/>
<text transform="translate(95.1,853.95) scale(1,1.05)" text-anchor="end" class="b" font-size="13">0</text>
<path d="M97 813.4H100.6" stroke="#111111" stroke-width="1.3"/>
<text transform="translate(95.1,817.65) scale(1,1.05)" text-anchor="end" class="b" font-size="13">5</text>
<path d="M97 777.1H100.6" stroke="#111111" stroke-width="1.3"/>
<text transform="translate(95.1,781.35) scale(1,1.05)" text-anchor="end" class="b" font-size="13">10</text>
<path d="M97 740.8H100.6" stroke="#111111" stroke-width="1.3"/>
<text transform="translate(95.1,745.05) scale(1,1.05)" text-anchor="end" class="b" font-size="13">15</text>
<text transform="translate(117.3,867.5)" text-anchor="middle" class="s" font-size="11.6">+</text>
<text transform="translate(150.9,867.6)" text-anchor="middle" class="m" font-size="12.5">-</text>
<text transform="translate(184.9,867.6)" text-anchor="middle" class="m" font-size="12.5">-</text>
<text transform="translate(218.9,867.6)" text-anchor="middle" class="m" font-size="12.5">-</text>
<text transform="translate(117.3,883.3)" text-anchor="middle" class="m" font-size="12.5">-</text>
<text transform="translate(150.9,883.2)" text-anchor="middle" class="s" font-size="11.6">+</text>
<text transform="translate(184.9,883.3)" text-anchor="middle" class="m" font-size="12.5">-</text>
<text transform="translate(218.9,883.2)" text-anchor="middle" class="s" font-size="11.6">+</text>
<text transform="translate(117.3,898.9)" text-anchor="middle" class="m" font-size="12.5">-</text>
<text transform="translate(150.9,898.9)" text-anchor="middle" class="m" font-size="12.5">-</text>
<text transform="translate(184.9,898.8)" text-anchor="middle" class="s" font-size="11.6">+</text>
<text transform="translate(218.9,898.8)" text-anchor="middle" class="s" font-size="11.6">+</text>
<text transform="translate(117.3,914.3)" text-anchor="middle" class="s" font-size="11.6">+</text>
<text transform="translate(150.9,914.3)" text-anchor="middle" class="s" font-size="11.6">+</text>
<text transform="translate(184.9,914.3)" text-anchor="middle" class="s" font-size="11.6">+</text>
<text transform="translate(218.9,914.3)" text-anchor="middle" class="s" font-size="11.6">+</text>
<text transform="translate(352.9,731.4) scale(1,1.07)" text-anchor="middle" class="r" font-size="14.8">TMZ 250<tspan font-family='"Liberation Serif", "DejaVu Serif", serif'>µ</tspan>M</text>
<path d="M301.1 786.2V781M296.4 781H305.8" stroke="#5e5e5e" stroke-width="1" fill="none"/>
<rect x="291.45" y="785.2" width="19.3" height="64.5" fill="#333333" stroke="#262626" stroke-width="0.6"/>
<path d="M301.1 849.7V853.5" stroke="#111111" stroke-width="1.4"/>
<path d="M334.95 774.5V769.5M330.25 769.5H339.65" stroke="#5e5e5e" stroke-width="1" fill="none"/>
<rect x="325.3" y="773.5" width="19.3" height="76.2" fill="#333333" stroke="#262626" stroke-width="0.6"/>
<path d="M334.95 849.7V853.5" stroke="#111111" stroke-width="1.4"/>
<path d="M368.95 772.7V768.2M364.25 768.2H373.65" stroke="#5e5e5e" stroke-width="1" fill="none"/>
<rect x="359.3" y="771.7" width="19.3" height="78" fill="#333333" stroke="#262626" stroke-width="0.6"/>
<path d="M368.95 849.7V853.5" stroke="#111111" stroke-width="1.4"/>
<path d="M402.95 764.7V760.5M398.25 760.5H407.65" stroke="#5e5e5e" stroke-width="1" fill="none"/>
<rect x="393.3" y="763.7" width="19.3" height="86" fill="#333333" stroke="#262626" stroke-width="0.6"/>
<path d="M402.95 849.7V853.5" stroke="#111111" stroke-width="1.4"/>
<path d="M284.4 740.2V849.7M283.8 849.7H421.2" stroke="#111111" stroke-width="1.55" fill="none"/>
<path d="M280.8 849.7H284.4" stroke="#111111" stroke-width="1.3"/>
<text transform="translate(278.9,853.95) scale(1,1.05)" text-anchor="end" class="b" font-size="13">0</text>
<path d="M280.8 827.92H284.4" stroke="#111111" stroke-width="1.3"/>
<text transform="translate(278.9,832.17) scale(1,1.05)" text-anchor="end" class="b" font-size="13">5</text>
<path d="M280.8 806.14H284.4" stroke="#111111" stroke-width="1.3"/>
<text transform="translate(278.9,810.39) scale(1,1.05)" text-anchor="end" class="b" font-size="13">10</text>
<path d="M280.8 784.36H284.4" stroke="#111111" stroke-width="1.3"/>
<text transform="translate(278.9,788.61) scale(1,1.05)" text-anchor="end" class="b" font-size="13">15</text>
<path d="M280.8 762.58H284.4" stroke="#111111" stroke-width="1.3"/>
<text transform="translate(278.9,766.83) scale(1,1.05)" text-anchor="end" class="b" font-size="13">20</text>
<path d="M280.8 740.8H284.4" stroke="#111111" stroke-width="1.3"/>
<text transform="translate(278.9,745.05) scale(1,1.05)" text-anchor="end" class="b" font-size="13">25</text>
<text transform="translate(403.2,760.15)" text-anchor="middle" class="st" font-size="13">*</text>
<text transform="translate(300.9,867.5)" text-anchor="middle" class="s" font-size="11.6">+</text>
<text transform="translate(334.75,867.6)" text-anchor="middle" class="m" font-size="12.5">-</text>
<text transform="translate(368.75,867.6)" text-anchor="middle" class="m" font-size="12.5">-</text>
<text transform="translate(402.75,867.6)" text-anchor="middle" class="m" font-size="12.5">-</text>
<text transform="translate(300.9,883.3)" text-anchor="middle" class="m" font-size="12.5">-</text>
<text transform="translate(334.75,883.2)" text-anchor="middle" class="s" font-size="11.6">+</text>
<text transform="translate(368.75,883.3)" text-anchor="middle" class="m" font-size="12.5">-</text>
<text transform="translate(402.75,883.2)" text-anchor="middle" class="s" font-size="11.6">+</text>
<text transform="translate(300.9,898.9)" text-anchor="middle" class="m" font-size="12.5">-</text>
<text transform="translate(334.75,898.9)" text-anchor="middle" class="m" font-size="12.5">-</text>
<text transform="translate(368.75,898.8)" text-anchor="middle" class="s" font-size="11.6">+</text>
<text transform="translate(402.75,898.8)" text-anchor="middle" class="s" font-size="11.6">+</text>
<text transform="translate(300.9,914.3)" text-anchor="middle" class="s" font-size="11.6">+</text>
<text transform="translate(334.75,914.3)" text-anchor="middle" class="s" font-size="11.6">+</text>
<text transform="translate(368.75,914.3)" text-anchor="middle" class="s" font-size="11.6">+</text>
<text transform="translate(402.75,914.3)" text-anchor="middle" class="s" font-size="11.6">+</text>
<text transform="translate(537.8,731.4) scale(1,1.07)" text-anchor="middle" class="r" font-size="14.8">CCNU 20<tspan font-family='"Liberation Serif", "DejaVu Serif", serif'>µ</tspan>M</text>
<path d="M487.35 782.7V776.7M482.65 776.7H492.05" stroke="#5e5e5e" stroke-width="1" fill="none"/>
<rect x="477.7" y="781.7" width="19.3" height="68" fill="#333333" stroke="#262626" stroke-width="0.6"/>
<path d="M487.35 849.7V853.5" stroke="#111111" stroke-width="1.4"/>
<path d="M521.35 771V765.5M516.65 765.5H526.05" stroke="#5e5e5e" stroke-width="1" fill="none"/>
<rect x="511.7" y="770" width="19.3" height="79.7" fill="#333333" stroke="#262626" stroke-width="0.6"/>
<path d="M521.35 849.7V853.5" stroke="#111111" stroke-width="1.4"/>
<path d="M555.35 763.5V756.7M550.65 756.7H560.05" stroke="#5e5e5e" stroke-width="1" fill="none"/>
<rect x="545.7" y="762.5" width="19.3" height="87.2" fill="#333333" stroke="#262626" stroke-width="0.6"/>
<path d="M555.35 849.7V853.5" stroke="#111111" stroke-width="1.4"/>
<path d="M589.35 758V756.5M584.65 756.5H594.05" stroke="#5e5e5e" stroke-width="1" fill="none"/>
<rect x="579.7" y="757" width="19.3" height="92.7" fill="#333333" stroke="#262626" stroke-width="0.6"/>
<path d="M589.35 849.7V853.5" stroke="#111111" stroke-width="1.4"/>
<path d="M470.8 740.2V849.7M470.2 849.7H607.5" stroke="#111111" stroke-width="1.55" fill="none"/>
<path d="M467.2 849.7H470.8" stroke="#111111" stroke-width="1.3"/>
<text transform="translate(465.3,853.95) scale(1,1.05)" text-anchor="end" class="b" font-size="13">0</text>
<path d="M467.2 822.48H470.8" stroke="#111111" stroke-width="1.3"/>
<text transform="translate(465.3,826.73) scale(1,1.05)" text-anchor="end" class="b" font-size="13">5</text>
<path d="M467.2 795.25H470.8" stroke="#111111" stroke-width="1.3"/>
<text transform="translate(465.3,799.5) scale(1,1.05)" text-anchor="end" class="b" font-size="13">10</text>
<path d="M467.2 768.02H470.8" stroke="#111111" stroke-width="1.3"/>
<text transform="translate(465.3,772.27) scale(1,1.05)" text-anchor="end" class="b" font-size="13">15</text>
<path d="M467.2 740.8H470.8" stroke="#111111" stroke-width="1.3"/>
<text transform="translate(465.3,745.05) scale(1,1.05)" text-anchor="end" class="b" font-size="13">20</text>
<text transform="translate(590,755.15)" text-anchor="middle" class="st" font-size="13">*</text>
<text transform="translate(487.15,867.5)" text-anchor="middle" class="s" font-size="11.6">+</text>
<text transform="translate(521.15,867.6)" text-anchor="middle" class="m" font-size="12.5">-</text>
<text transform="translate(555.15,867.6)" text-anchor="middle" class="m" font-size="12.5">-</text>
<text transform="translate(589.15,867.6)" text-anchor="middle" class="m" font-size="12.5">-</text>
<text transform="translate(487.15,883.3)" text-anchor="middle" class="m" font-size="12.5">-</text>
<text transform="translate(521.15,883.2)" text-anchor="middle" class="s" font-size="11.6">+</text>
<text transform="translate(555.15,883.3)" text-anchor="middle" class="m" font-size="12.5">-</text>
<text transform="translate(589.15,883.2)" text-anchor="middle" class="s" font-size="11.6">+</text>
<text transform="translate(487.15,898.9)" text-anchor="middle" class="m" font-size="12.5">-</text>
<text transform="translate(521.15,898.9)" text-anchor="middle" class="m" font-size="12.5">-</text>
<text transform="translate(555.15,898.8)" text-anchor="middle" class="s" font-size="11.6">+</text>
<text transform="translate(589.15,898.8)" text-anchor="middle" class="s" font-size="11.6">+</text>
<text transform="translate(487.15,914.3)" text-anchor="middle" class="s" font-size="11.6">+</text>
<text transform="translate(521.15,914.3)" text-anchor="middle" class="s" font-size="11.6">+</text>
<text transform="translate(555.15,914.3)" text-anchor="middle" class="s" font-size="11.6">+</text>
<text transform="translate(589.15,914.3)" text-anchor="middle" class="s" font-size="11.6">+</text>
<text transform="translate(723.1,731.4) scale(1,1.07)" text-anchor="middle" class="r" font-size="14.8">VCR 0.5<tspan font-family='"Liberation Serif", "DejaVu Serif", serif'>µ</tspan>M</text>
<path d="M672.15 796.2V791.7M667.45 791.7H676.85" stroke="#5e5e5e" stroke-width="1" fill="none"/>
<rect x="662.5" y="795.2" width="19.3" height="54.5" fill="#333333" stroke="#262626" stroke-width="0.6"/>
<path d="M672.15 849.7V853.5" stroke="#111111" stroke-width="1.4"/>
<path d="M705.9 792.2V787.7M701.2 787.7H710.6" stroke="#5e5e5e" stroke-width="1" fill="none"/>
<rect x="696.25" y="791.2" width="19.3" height="58.5" fill="#333333" stroke="#262626" stroke-width="0.6"/>
<path d="M705.9 849.7V853.5" stroke="#111111" stroke-width="1.4"/>
<path d="M739.9 774V769.5M735.2 769.5H744.6" stroke="#5e5e5e" stroke-width="1" fill="none"/>
<rect x="730.25" y="773" width="19.3" height="76.7" fill="#333333" stroke="#262626" stroke-width="0.6"/>
<path d="M739.9 849.7V853.5" stroke="#111111" stroke-width="1.4"/>
<path d="M773.9 766.2V759.7M769.2 759.7H778.6" stroke="#5e5e5e" stroke-width="1" fill="none"/>
<rect x="764.25" y="765.2" width="19.3" height="84.5" fill="#333333" stroke="#262626" stroke-width="0.6"/>
<path d="M773.9 849.7V853.5" stroke="#111111" stroke-width="1.4"/>
<path d="M655.2 740.2V849.7M654.6 849.7H790.8" stroke="#111111" stroke-width="1.55" fill="none"/>
<path d="M651.6 849.7H655.2" stroke="#111111" stroke-width="1.3"/>
<text transform="translate(649.7,853.95) scale(1,1.05)" text-anchor="end" class="b" font-size="13">0</text>
<path d="M651.6 827.92H655.2" stroke="#111111" stroke-width="1.3"/>
<text transform="translate(649.7,832.17) scale(1,1.05)" text-anchor="end" class="b" font-size="13">5</text>
<path d="M651.6 806.14H655.2" stroke="#111111" stroke-width="1.3"/>
<text transform="translate(649.7,810.39) scale(1,1.05)" text-anchor="end" class="b" font-size="13">10</text>
<path d="M651.6 784.36H655.2" stroke="#111111" stroke-width="1.3"/>
<text transform="translate(649.7,788.61) scale(1,1.05)" text-anchor="end" class="b" font-size="13">15</text>
<path d="M651.6 762.58H655.2" stroke="#111111" stroke-width="1.3"/>
<text transform="translate(649.7,766.83) scale(1,1.05)" text-anchor="end" class="b" font-size="13">20</text>
<path d="M651.6 740.8H655.2" stroke="#111111" stroke-width="1.3"/>
<text transform="translate(649.7,745.05) scale(1,1.05)" text-anchor="end" class="b" font-size="13">25</text>
<text transform="translate(740.2,769.65)" text-anchor="middle" class="st" font-size="13">**</text>
<text transform="translate(774,760.95)" text-anchor="middle" class="st" font-size="13">**</text>
<text transform="translate(671.95,867.5)" text-anchor="middle" class="s" font-size="11.6">+</text>
<text transform="translate(705.7,867.6)" text-anchor="middle" class="m" font-size="12.5">-</text>
<text transform="translate(739.7,867.6)" text-anchor="middle" class="m" font-size="12.5">-</text>
<text transform="translate(773.7,867.6)" text-anchor="middle" class="m" font-size="12.5">-</text>
<text transform="translate(671.95,883.3)" text-anchor="middle" class="m" font-size="12.5">-</text>
<text transform="translate(705.7,883.2)" text-anchor="middle" class="s" font-size="11.6">+</text>
<text transform="translate(739.7,883.3)" text-anchor="middle" class="m" font-size="12.5">-</text>
<text transform="translate(773.7,883.2)" text-anchor="middle" class="s" font-size="11.6">+</text>
<text transform="translate(671.95,898.9)" text-anchor="middle" class="m" font-size="12.5">-</text>
<text transform="translate(705.7,898.9)" text-anchor="middle" class="m" font-size="12.5">-</text>
<text transform="translate(739.7,898.8)" text-anchor="middle" class="s" font-size="11.6">+</text>
<text transform="translate(773.7,898.8)" text-anchor="middle" class="s" font-size="11.6">+</text>
<text transform="translate(671.95,914.3)" text-anchor="middle" class="s" font-size="11.6">+</text>
<text transform="translate(705.7,914.3)" text-anchor="middle" class="s" font-size="11.6">+</text>
<text transform="translate(739.7,914.3)" text-anchor="middle" class="s" font-size="11.6">+</text>
<text transform="translate(773.7,914.3)" text-anchor="middle" class="s" font-size="11.6">+</text>
</g></svg>
</body></html>
